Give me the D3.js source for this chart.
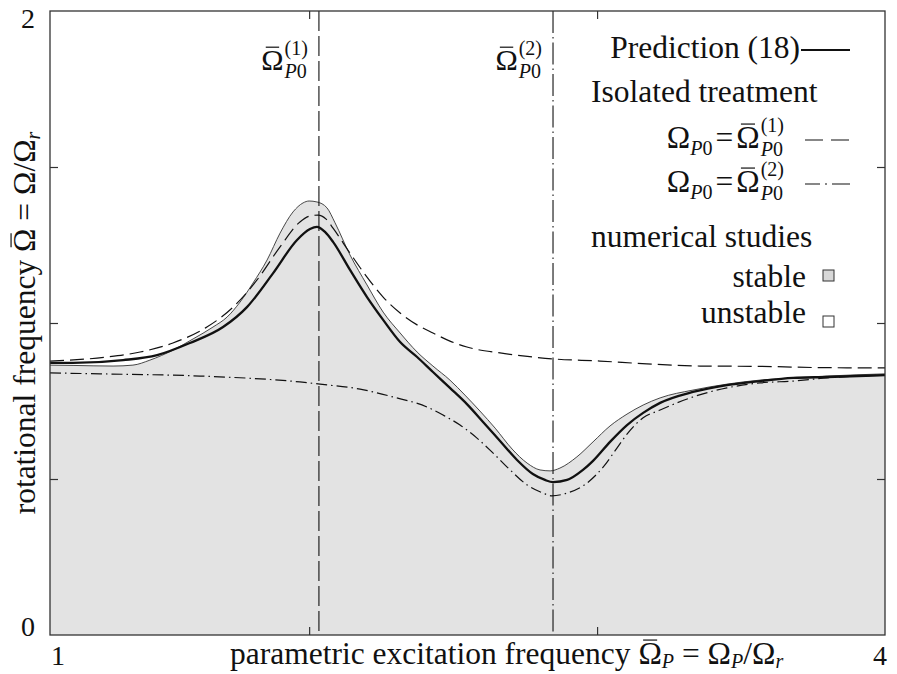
<!DOCTYPE html>
<html>
<head>
<meta charset="utf-8">
<script src="https://cdnjs.cloudflare.com/ajax/libs/d3/7.8.5/d3.min.js"></script>
<style>
  body { margin: 0; background: #fff; }
  text { font-family: "Liberation Serif", "Times New Roman", serif; fill: #111; white-space: pre; }
</style>
</head>
<body>
<div id="chart"></div>
<script>
// axis setup
const xDomain = [1.1, 4];
const yDomain = [0, 2];
const xTicks = [2, 3];
const yTicks = [0.5, 1, 1.5];
const xEndLabels = ['1', '4'];
const yEndLabels = ['0', '2'];

// the two excitation frequencies Omega_P0^(1), Omega_P0^(2)
const omegaP0 = [2.034, 2.847];

// upper limit of the stable region (numerical studies)
const stableLimit = [
  [1.100, 0.865], [1.180, 0.864], [1.319, 0.862], [1.388, 0.865], [1.447, 0.881],
  [1.527, 0.913], [1.597, 0.949], [1.666, 0.987], [1.715, 1.019], [1.760, 1.067],
  [1.805, 1.128], [1.854, 1.202], [1.899, 1.288], [1.944, 1.356], [1.979, 1.385],
  [2.000, 1.391], [2.027, 1.388], [2.062, 1.369], [2.090, 1.321], [2.142, 1.218],
  [2.201, 1.122], [2.257, 1.035], [2.316, 0.968], [2.375, 0.907], [2.430, 0.862],
  [2.489, 0.817], [2.541, 0.769], [2.593, 0.718], [2.646, 0.663], [2.705, 0.596],
  [2.757, 0.551], [2.802, 0.529], [2.837, 0.526], [2.871, 0.535], [2.930, 0.571],
  [2.986, 0.619], [3.045, 0.670], [3.104, 0.708], [3.160, 0.737], [3.219, 0.760],
  [3.333, 0.785], [3.451, 0.804], [3.566, 0.817], [3.681, 0.824], [3.799, 0.830],
  [4.000, 0.837]
];

// Prediction (18)
const prediction = [
  [1.100, 0.872], [1.180, 0.872], [1.354, 0.881], [1.472, 0.897], [1.586, 0.936],
  [1.701, 0.987], [1.784, 1.051], [1.875, 1.160], [1.958, 1.266], [2.003, 1.301],
  [2.027, 1.308], [2.055, 1.292], [2.083, 1.260], [2.142, 1.170], [2.201, 1.083],
  [2.257, 1.010], [2.316, 0.939], [2.375, 0.891], [2.430, 0.843], [2.489, 0.792],
  [2.548, 0.740], [2.604, 0.683], [2.663, 0.622], [2.722, 0.561], [2.777, 0.516],
  [2.819, 0.497], [2.847, 0.490], [2.896, 0.497], [2.951, 0.529], [2.986, 0.558],
  [3.045, 0.619], [3.104, 0.673], [3.160, 0.712], [3.219, 0.744], [3.333, 0.779],
  [3.451, 0.801], [3.566, 0.814], [3.681, 0.824], [3.799, 0.827], [4.000, 0.833]
];

// isolated treatment, Omega_P0 = Omega_P0^(1)
const isolated1 = [
  [1.100, 0.878], [1.298, 0.891], [1.413, 0.907], [1.527, 0.936], [1.645, 0.987],
  [1.736, 1.051], [1.819, 1.138], [1.899, 1.244], [1.968, 1.324], [2.003, 1.343],
  [2.031, 1.346], [2.059, 1.333], [2.083, 1.304], [2.142, 1.224], [2.201, 1.147],
  [2.257, 1.083], [2.316, 1.032], [2.375, 0.994], [2.430, 0.968], [2.489, 0.942],
  [2.548, 0.923], [2.663, 0.904], [2.777, 0.891], [2.847, 0.885], [3.010, 0.878],
  [3.173, 0.869], [3.358, 0.862], [3.566, 0.861], [3.774, 0.857], [4.000, 0.856]
];

// isolated treatment, Omega_P0 = Omega_P0^(2)
const isolated2 = [
  [1.100, 0.840], [1.274, 0.837], [1.621, 0.830], [1.968, 0.811], [2.038, 0.804],
  [2.177, 0.788], [2.291, 0.763], [2.409, 0.731], [2.465, 0.705], [2.524, 0.673],
  [2.583, 0.631], [2.639, 0.583], [2.698, 0.529], [2.757, 0.481], [2.812, 0.455],
  [2.843, 0.446], [2.896, 0.455], [2.965, 0.487], [3.021, 0.538], [3.069, 0.599],
  [3.104, 0.644], [3.160, 0.696], [3.219, 0.721], [3.333, 0.763], [3.451, 0.792],
  [3.566, 0.808], [3.681, 0.814], [3.799, 0.824], [4.000, 0.833]
];

const width = 897;
const height = 674;
const margin = {top: 11, right: 12, bottom: 39, left: 50};
const ink = '#111';
const fillGray = '#e3e3e3';
const fs = 31.5;   // main text size
const fsSub = 20;  // sub/superscripts

const svg = d3.select('#chart').append('svg')
  .attr('width', width)
  .attr('height', height);

const x = d3.scaleLinear().domain(xDomain).range([margin.left, width - margin.right]);
const y = d3.scaleLinear().domain(yDomain).range([height - margin.bottom, margin.top]);

const line = d3.line().x(d => x(d[0])).y(d => y(d[1])).curve(d3.curveMonotoneX);
const area = d3.area().x(d => x(d[0])).y0(y(0)).y1(d => y(d[1])).curve(d3.curveMonotoneX);

// stable region
svg.append('path').attr('d', area(stableLimit)).attr('fill', fillGray);
svg.append('path').attr('d', line(stableLimit))
  .attr('fill', 'none').attr('stroke', '#333').attr('stroke-width', 0.9);

// isolated treatment curves
svg.append('path').attr('d', line(isolated2))
  .attr('fill', 'none').attr('stroke', ink).attr('stroke-width', 1.2)
  .attr('stroke-dasharray', '11,4,1.5,4');
svg.append('path').attr('d', line(isolated1))
  .attr('fill', 'none').attr('stroke', ink).attr('stroke-width', 1.2)
  .attr('stroke-dasharray', '14,6');

// prediction
svg.append('path').attr('d', line(prediction))
  .attr('fill', 'none').attr('stroke', ink).attr('stroke-width', 2.3);

// vertical markers
svg.append('line')
  .attr('x1', x(omegaP0[0])).attr('x2', x(omegaP0[0]))
  .attr('y1', y(yDomain[1])).attr('y2', y(yDomain[0]))
  .attr('stroke', ink).attr('stroke-width', 1.1).attr('stroke-dasharray', '20,5');
svg.append('line')
  .attr('x1', x(omegaP0[1])).attr('x2', x(omegaP0[1]))
  .attr('y1', y(yDomain[1])).attr('y2', y(yDomain[0]))
  .attr('stroke', ink).attr('stroke-width', 1.1).attr('stroke-dasharray', '22,4,1.5,4');

// frame + inward ticks
svg.append('rect')
  .attr('x', x.range()[0]).attr('y', y.range()[1])
  .attr('width', x.range()[1] - x.range()[0]).attr('height', y.range()[0] - y.range()[1])
  .attr('fill', 'none').attr('stroke', '#333').attr('stroke-width', 1.3);

function ticks(axis, transform) {
  svg.append('g').attr('transform', transform)
    .call(axis.tickSizeInner(-8).tickSizeOuter(0).tickFormat(''))
    .call(g => g.select('.domain').remove())
    .call(g => g.selectAll('line').attr('stroke', '#333').attr('stroke-width', 1.2));
}
ticks(d3.axisBottom(x).tickValues(xTicks), `translate(0,${y(0)})`);
ticks(d3.axisTop(x).tickValues(xTicks), `translate(0,${y(2)})`);
ticks(d3.axisLeft(y).tickValues(yTicks), `translate(${x(xDomain[0])},0)`);
ticks(d3.axisRight(y).tickValues(yTicks), `translate(${x(xDomain[1])},0)`);

// end labels of the axes
svg.append('text').attr('x', x(xDomain[0]) + 1).attr('y', 665).attr('font-size', 28).text(xEndLabels[0]);
svg.append('text').attr('x', x(xDomain[1]) + 2).attr('y', 665).attr('font-size', 28)
  .attr('text-anchor', 'end').text(xEndLabels[1]);
svg.append('text').attr('x', 35).attr('y', y(yDomain[0]) + 1).attr('font-size', 28)
  .attr('text-anchor', 'end').text(yEndLabels[0]);
svg.append('text').attr('x', 35).attr('y', y(yDomain[1]) + 17).attr('font-size', 28)
  .attr('text-anchor', 'end').text(yEndLabels[1]);

// little typesetter: pieces laid out left to right, returns group + width
function typeset(parent, pieces) {
  const g = parent.append('g');
  let cx = 0;
  function put(p, dy, size) {
    const t = g.append('text').attr('x', cx).attr('y', dy).attr('font-size', size);
    (Array.isArray(p) ? p : [[p, false]]).forEach(([s, it]) => {
      t.append('tspan').attr('font-style', it ? 'italic' : 'normal').text(s);
    });
    return t.node().getComputedTextLength();
  }
  pieces.forEach(p => {
    if (p.stack) {
      const w1 = put(p.sup, p.supDy, p.size);
      const w2 = put(p.sub, p.subDy, p.size);
      cx += Math.max(w1, w2) + (p.gap || 0);
    } else {
      const w = put(p.t, p.dy || 0, p.size);
      if (p.bar) {
        // macron over the Omega
        g.append('line')
          .attr('x1', cx + w * 0.2).attr('x2', cx + w * 0.8)
          .attr('y1', -p.size * 0.76).attr('y2', -p.size * 0.76)
          .attr('stroke', ink).attr('stroke-width', 1.2);
      }
      cx += w + (p.gap || 0);
    }
  });
  return {g, w: cx};
}

// Omega_bar^(k)_P0 labels above the vertical lines
[['(1)', omegaP0[0]], ['(2)', omegaP0[1]]].forEach(([k, v]) => {
  const lab = typeset(svg, [
    {t: 'Ω', bar: true, size: 30, gap: 1},
    {stack: true, sup: k, sub: [['P', true], ['0', false]], supDy: -15, subDy: 8, size: 20}
  ]);
  lab.g.attr('transform', `translate(${x(v) - 11 - lab.w},70)`);
});

// axis titles
const xt = typeset(svg, [
  {t: 'parametric excitation frequency ', size: fs},
  {t: 'Ω', bar: true, size: fs},
  {t: [['P', true]], size: fsSub, dy: 4},
  {t: ' = Ω', size: fs},
  {t: [['P', true]], size: fsSub, dy: 4},
  {t: '/Ω', size: fs},
  {t: [['r', true]], size: fsSub, dy: 4}
]);
xt.g.attr('transform', 'translate(230,664)');

const yt = typeset(svg, [
  {t: 'rotational frequency ', size: fs},
  {t: 'Ω', bar: true, size: fs},
  {t: ' = Ω/Ω', size: fs},
  {t: [['r', true]], size: fsSub, dy: 5}
]);
yt.g.attr('transform', `translate(35,${(y(0) + y(2)) / 2}) rotate(-90) translate(${-yt.w / 2},0)`);

// legend
const legend = svg.append('g');
legend.append('text').attr('x', 800).attr('y', 58).attr('font-size', fs)
  .attr('text-anchor', 'end').text('Prediction (18)');
legend.append('line').attr('x1', 801).attr('x2', 850).attr('y1', 50).attr('y2', 50)
  .attr('stroke', ink).attr('stroke-width', 2);

legend.append('text').attr('x', 591).attr('y', 102).attr('font-size', fs).text('Isolated treatment');

[['(1)', 148, '18,8'], ['(2)', 192, '15,5,2,5,18']].forEach(([k, yy, dash]) => {
  const eq = typeset(legend, [
    {t: 'Ω', size: fs},
    {t: [['P', true], ['0', false]], size: fsSub, dy: 7, gap: 3},
    {t: '=', size: fs, gap: 3},
    {t: 'Ω', bar: true, size: fs, gap: 1},
    {stack: true, sup: k, sub: [['P', true], ['0', false]], supDy: -16, subDy: 8, size: fsSub}
  ]);
  eq.g.attr('transform', `translate(${784 - eq.w},${yy})`);
  legend.append('line').attr('x1', 805).attr('x2', 850).attr('y1', yy - 8).attr('y2', yy - 8)
    .attr('stroke', ink).attr('stroke-width', 1.2).attr('stroke-dasharray', dash);
});

legend.append('text').attr('x', 591).attr('y', 247).attr('font-size', fs).text('numerical studies');
legend.append('text').attr('x', 806).attr('y', 287).attr('font-size', fs)
  .attr('text-anchor', 'end').text('stable');
legend.append('rect').attr('x', 823).attr('y', 270).attr('width', 11).attr('height', 11)
  .attr('fill', '#d8d8d8').attr('stroke', '#333').attr('stroke-width', 1);
legend.append('text').attr('x', 806).attr('y', 323).attr('font-size', fs)
  .attr('text-anchor', 'end').text('unstable');
legend.append('rect').attr('x', 823).attr('y', 316).attr('width', 11).attr('height', 11)
  .attr('fill', '#fff').attr('stroke', '#333').attr('stroke-width', 1);
</script>
</body>
</html>
